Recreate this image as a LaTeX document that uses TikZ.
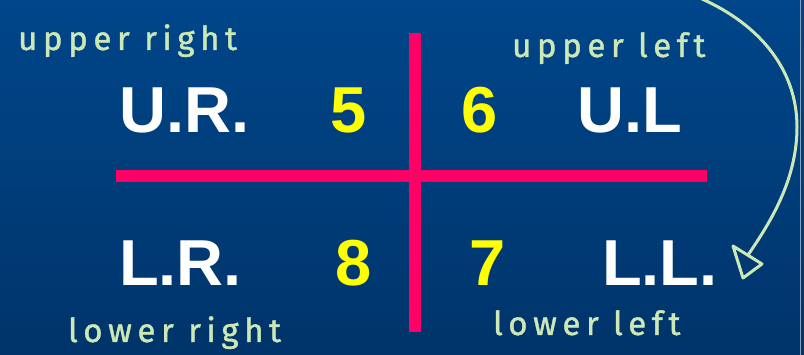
\documentclass[tikz,border=0pt]{standalone}
\usepackage{fontspec}
\setmainfont{Liberation Sans}
\newfontfamily\handfont[LetterSpace=17,FakeBold=1.2]{Fira Sans}
\definecolor{bgtop}{RGB}{0,70,138}
\definecolor{bgbot}{RGB}{0,52,106}
\definecolor{crosspink}{RGB}{255,0,102}
\definecolor{numyellow}{RGB}{255,255,0}
\definecolor{handgreen}{RGB}{205,232,181}
\definecolor{edgegrey}{RGB}{140,160,185}
\tikzset{
  code/.style={anchor=base west, inner sep=0pt, text=white, font=\fontsize{65}{65}\selectfont\bfseries},
  num/.style={anchor=base west, inner sep=0pt, text=numyellow, font=\fontsize{65}{65}\selectfont\bfseries},
  hand/.style={anchor=base west, inner sep=0pt, text=handgreen, font=\handfont\fontsize{33}{33}\selectfont},
  crossline/.style={draw=crosspink, line width=12pt},
  handline/.style={draw=handgreen, line width=3pt, line cap=round, line join=round}
}
\begin{document}
\begin{tikzpicture}[x=1pt,y=1pt]
\useasboundingbox (0,0) rectangle (804,355);
\shade[top color=bgtop, bottom color=bgbot] (0,0) rectangle (804,355);
\draw[edgegrey, line width=1.5pt] (800.5,0) -- (800.5,355);
% cross
\coordinate (hl) at (116,179);
\coordinate (hr) at (707,179);
\coordinate (vt) at (415,322);
\coordinate (vb) at (415,23);
\draw[crossline] (hl) -- (hr);
\draw[crossline] (vt) -- (vb);
% labels
\node[code] (ur) at (119,222) {U.R.};
\node[num] (n5) at (330,222) {5};
\node[num] (n6) at (461,222) {6};
\node[code] (ul) at (577,222) {U.L};
\node[code] (lr) at (119,69) {L.R.};
\node[num] (n8) at (335,69) {8};
\node[num] (n7) at (469,69) {7};
\node[code] (ll) at (602,69) {L.L.};
% handwriting
\node[hand] (hur) at (18,305) {upper right};
\node[hand] (hul) at (512,298) {upper left};
\node[hand] (hlr) at (68,13) {lower right};
\node[hand] (hll) at (493,20) {lower left};
% curved arrow
\coordinate (as) at (702,356);
\coordinate (am) at (797,228);
\coordinate (ae) at (748,100);
\coordinate (t1) at (733,109);
\coordinate (t2) at (762,91);
\coordinate (t3) at (743,77);
\draw[handline] (as) .. controls (760,330) and (797,285) .. (am)
  .. controls (797,175) and (770,132) .. (ae);
\draw[handline] (t1) -- (t2) -- (t3) -- cycle;
\end{tikzpicture}
\end{document}
